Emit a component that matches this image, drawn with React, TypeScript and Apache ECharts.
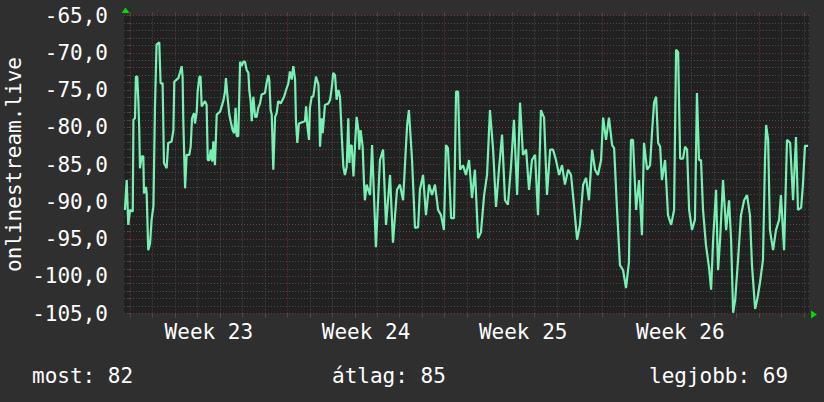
import React, { useEffect, useRef } from 'react';
import * as echarts from 'echarts';

// time in days since start of week 23, signal value
const DAYS = [
  -0.24, -0.16, -0.09, -0.01, 0.11, 0.14, 0.21, 0.25, 0.31, 0.36,
  0.40, 0.43, 0.51, 0.58, 0.61, 0.70, 0.73, 0.80, 0.88, 0.95,
  1.03, 1.10, 1.17, 1.29, 1.35, 1.44, 1.50, 1.62, 1.69, 1.84,
  1.92, 1.96, 2.14, 2.21, 2.29, 2.33, 2.36, 2.44, 2.51, 2.63,
  2.69, 2.75, 2.84, 2.88, 2.96, 3.00, 3.08, 3.13, 3.18, 3.33,
  3.40, 3.45, 3.52, 3.58, 3.65, 3.70, 3.77, 3.85, 4.00, 4.14,
  4.22, 4.26, 4.32, 4.41, 4.47, 4.56, 4.63, 4.69, 4.74, 4.81,
  4.89, 4.96, 5.04, 5.11, 5.18, 5.26, 5.30, 5.36, 5.41, 5.48,
  5.56, 5.63, 5.70, 5.78, 5.85, 6.00, 6.07, 6.15, 6.19, 6.25,
  6.30, 6.37, 6.45, 6.52, 6.59, 6.70, 6.85, 6.94, 7.04, 7.11,
  7.19, 7.26, 7.34, 7.38, 7.44, 7.51, 7.78, 7.83, 7.89, 7.96,
  8.00, 8.08, 8.15, 8.23, 8.27, 8.38, 8.42, 8.45, 8.52, 8.57,
  8.67, 8.82, 8.90, 8.97, 9.04, 9.12, 9.19, 9.27, 9.34, 9.42,
  9.49, 9.56, 9.64, 9.71, 9.76, 9.79, 9.86, 9.94, 10.01, 10.08,
  10.16, 10.20, 10.26, 10.35, 10.41, 10.45, 10.53, 10.60,
  10.68, 10.77, 10.94, 11.12, 11.26, 11.39, 11.57, 11.70, 11.88, 12.01,
  12.15, 12.33, 12.41, 12.55, 12.68, 12.82, 12.90, 13.04, 13.17, 13.31,
  13.44, 13.57, 13.71, 13.84, 13.97, 14.06, 14.15, 14.29, 14.42, 14.51,
  14.60, 14.69, 14.82, 14.95, 15.09, 15.22, 15.35, 15.49, 15.62, 15.76,
  15.89, 16.02, 16.16, 16.29, 16.42, 16.56, 16.69, 16.82, 16.96, 17.09,
  17.23, 17.36, 17.49, 17.63, 17.76, 17.89, 18.03, 18.16, 18.29, 18.43,
  18.56, 18.70, 18.83, 18.96, 19.10, 19.23, 19.36, 19.50, 19.63, 19.76,
  19.90, 20.03, 20.17, 20.30, 20.43, 20.57, 20.70, 20.83, 20.97, 21.06,
  21.19, 21.32, 21.46, 21.55, 21.68, 21.81, 21.95, 22.08, 22.21, 22.30,
  22.39, 22.53, 22.66, 22.79, 22.88, 23.02, 23.15, 23.24, 23.33, 23.42,
  23.51, 23.60, 23.68, 23.82, 23.95, 24.09, 24.22, 24.31, 24.40, 24.49,
  24.62, 24.71, 24.80, 24.89, 25.02, 25.15, 25.24, 25.33, 25.42, 25.51,
  25.64, 25.78, 25.87, 25.96, 26.09, 26.18, 26.27, 26.40, 26.54, 26.67,
  26.76, 26.85, 26.94, 27.07, 27.20, 27.34, 27.47, 27.60, 27.69, 27.83,
  27.92, 28.05, 28.18, 28.27, 28.32, 28.41, 28.49, 28.63, 28.76, 28.90,
  28.98, 29.12, 29.25, 29.39, 29.52, 29.65, 29.74, 29.88, 29.96, 30.05,
  30.19,
];

const VALUES = [
  -91.1, -87.1, -93.1, -91.1, -91.3, -79.0, -78.8, -73.2, -73.2, -76.5,
  -80.4, -85.5, -83.9, -83.9, -88.9, -88.0, -88.9, -96.5, -95.6, -92.4,
  -90.6, -77.2, -68.9, -68.6, -74.1, -74.1, -84.8, -85.5, -82.1, -81.9,
  -80.4, -73.9, -73.4, -72.7, -71.8, -73.2, -79.0, -88.2, -83.7, -83.7,
  -82.6, -78.8, -78.1, -79.5, -77.9, -75.2, -73.2, -73.2, -77.2, -76.5,
  -77.0, -84.4, -84.4, -83.0, -84.6, -81.9, -85.1, -78.3, -77.9, -76.5,
  -75.2, -73.4, -75.6, -78.3, -79.2, -80.4, -80.8, -77.4, -81.2, -81.2,
  -71.2, -71.8, -71.2, -71.2, -72.3, -72.7, -75.0, -76.5, -79.2, -75.9,
  -78.6, -78.6, -77.4, -76.8, -75.6, -75.4, -74.1, -73.0, -73.6, -77.7,
  -78.3, -85.7, -78.6, -78.1, -76.5, -76.8, -75.9, -75.0, -74.1, -72.5,
  -73.6, -71.8, -73.6, -79.2, -82.1, -79.5, -79.2, -77.2, -79.9, -81.7,
  -77.4, -75.9, -75.9, -74.1, -73.2, -74.3, -77.7, -82.6, -78.8, -80.8,
  -77.0, -76.8, -76.3, -74.8, -72.7, -73.0, -76.3, -75.0, -75.9, -81.2,
  -85.3, -86.4, -85.3, -78.8, -84.8, -82.6, -82.4, -86.6, -82.4, -78.6,
  -80.4, -83.0, -80.4, -82.6, -87.5, -89.8, -87.7, -88.4,
  -89.1, -82.4, -96.1, -84.4, -83.0, -93.1, -86.4, -95.5, -88.4, -87.7,
  -89.8, -79.7, -77.7, -84.4, -93.5, -93.4, -88.4, -86.4, -91.8, -87.7,
  -89.1, -87.7, -91.1, -91.8, -93.8, -82.4, -82.8, -92.2, -92.2, -75.2,
  -75.2, -85.7, -85.1, -86.4, -84.4, -89.5, -85.7, -94.9, -94.1, -89.1,
  -86.4, -77.7, -83.0, -90.7, -85.7, -81.0, -89.8, -90.4, -85.1, -79.0,
  -89.1, -76.7, -83.7, -83.0, -88.4, -84.4, -83.7, -91.8, -77.7, -78.7,
  -89.1, -83.0, -83.0, -84.4, -86.4, -85.1, -87.7, -85.7, -86.4, -90.4,
  -95.1, -93.1, -87.7, -86.8, -89.8, -83.0, -85.7, -86.4, -84.4, -78.7,
  -81.7, -78.7, -82.4, -82.8, -91.1, -98.5, -99.2, -101.6, -98.1, -81.7,
  -81.7, -91.1, -87.1, -94.5, -82.1, -85.7, -85.1, -80.6, -76.7, -75.9,
  -82.1, -82.6, -87.1, -84.4, -91.8, -93.1, -91.1, -69.6, -69.9, -84.2,
  -84.2, -82.6, -83.0, -91.1, -93.8, -92.4, -75.4, -84.4, -84.4, -91.1,
  -95.8, -98.9, -101.8, -95.1, -88.4, -99.2, -95.1, -87.1, -93.8, -89.8,
  -95.1, -104.9, -103.2, -97.8, -91.8, -89.8, -89.1, -91.8, -98.5, -104.4,
  -103.2, -100.8, -97.8, -84.4, -79.7, -81.7, -93.8, -96.5, -93.8, -92.4,
  -89.1, -96.5, -81.7, -82.1, -89.8, -81.3, -91.1, -90.8, -87.7, -82.5,
  -82.5,
];

const X_MIN = -0.28;
const X_MAX = 30.23;
const Y_MIN = -105;
const Y_MAX = -65;
const Y_STEP = 5;

const DAY_TICKS = [
  0, 1, 2, 3, 4, 5, 6, 7, 8, 9, 10, 11, 12, 13, 14, 15,
  16, 17, 18, 19, 20, 21, 22, 23, 24, 25, 26, 27, 28, 29, 30,
];
const WEEK_LABEL_POS = [3.5, 10.5, 17.5, 24.5];
const WEEK_LABELS = ['Week 23', 'Week 24', 'Week 25', 'Week 26'];

const Y_NAME = 'onlinestream.live';
const SUMMARY_LABELS = ['most: ', 'átlag: ', 'legjobb: '];
const SUMMARY_VALUES = [82, 85, 69];

const FONT = '"DejaVu Sans Mono", monospace';
const LINE_COLOR = '#78f0b4';
const MAJOR = '#7a3434';
const MINOR = '#4c4c4c';
const ARROW = '#00dd00';

export default function App() {
  const ref = useRef<HTMLDivElement>(null);

  useEffect(() => {
    if (!ref.current) return;
    const chart = echarts.init(ref.current, undefined, { renderer: 'svg' });
    const data = DAYS.map((d, i) => [d, VALUES[i]]);

    const option: any = {
      animation: false,
      backgroundColor: '#2f2f2f',
      grid: {
        left: 124,
        right: 15,
        top: 15.5,
        bottom: 88.5,
        show: true,
        backgroundColor: '#212121',
        borderWidth: 0,
        containLabel: false,
        outerBoundsMode: 'none',
      },
      xAxis: [
        {
          type: 'value',
          min: X_MIN,
          max: X_MAX,
          position: 'bottom',
          axisLine: { show: false },
          axisTick: {
            show: true,
            customValues: DAY_TICKS,
            length: 4,
            lineStyle: { color: MINOR },
          },
          axisLabel: {
            show: true,
            customValues: WEEK_LABEL_POS,
            formatter: (v: number) => {
              const i = WEEK_LABEL_POS.findIndex((p) => Math.abs(p - v) < 1e-6);
              return i >= 0 ? WEEK_LABELS[i] : '';
            },
            color: '#ffffff',
            fontFamily: FONT,
            fontSize: 21,
            margin: 8,
          },
          splitLine: {
            show: true,
            lineStyle: {
              color: [MAJOR, MINOR, MINOR, MINOR, MINOR, MINOR, MINOR],
              type: [1, 2],
              width: 1,
            },
          },
        },
        {
          type: 'value',
          min: X_MIN,
          max: X_MAX,
          position: 'top',
          axisLine: { show: false },
          axisTick: {
            show: true,
            customValues: DAY_TICKS,
            length: 3,
            lineStyle: { color: MINOR },
          },
          axisLabel: { show: false },
          splitLine: { show: false },
        },
      ],
      yAxis: {
        type: 'value',
        min: Y_MIN,
        max: Y_MAX,
        interval: Y_STEP,
        axisLine: { show: false },
        axisTick: { show: true, length: 2, lineStyle: { color: MAJOR } },
        minorTick: { show: true, splitNumber: 5, length: 2, lineStyle: { color: MINOR } },
        axisLabel: {
          formatter: (v: number) => v.toFixed(1).replace('.', ','),
          color: '#ffffff',
          fontFamily: FONT,
          fontSize: 21,
          margin: 16,
        },
        splitLine: { show: true, lineStyle: { color: MAJOR, type: [1, 2], width: 1 } },
        minorSplitLine: { show: true, lineStyle: { color: MINOR, type: [1, 2], width: 1 } },
        name: Y_NAME,
        nameLocation: 'middle',
        nameRotate: 90,
        nameGap: 100,
        nameMoveOverlap: false,
        nameTextStyle: { color: '#ffffff', fontFamily: FONT, fontSize: 21 },
      },
      series: [
        {
          type: 'line',
          xAxisIndex: 0,
          data,
          showSymbol: false,
          symbol: 'none',
          lineStyle: { color: LINE_COLOR, width: 2.2 },
          z: 5,
          silent: true,
        },
      ],
      graphic: [
        {
          type: 'polygon',
          shape: { points: [[125.5, 7.5], [121.5, 13], [129.5, 13]] },
          style: { fill: ARROW },
        },
        {
          type: 'polygon',
          shape: { points: [[817, 314.5], [811, 310.5], [811, 318.5]] },
          style: { fill: ARROW },
        },
        {
          type: 'text',
          x: 32,
          y: 376,
          style: {
            text: SUMMARY_LABELS[0] + SUMMARY_VALUES[0],
            fill: '#ffffff',
            fontFamily: FONT,
            fontSize: 21,
            verticalAlign: 'middle',
          },
        },
        {
          type: 'text',
          x: 332,
          y: 376,
          style: {
            text: SUMMARY_LABELS[1] + SUMMARY_VALUES[1],
            fill: '#ffffff',
            fontFamily: FONT,
            fontSize: 21,
            verticalAlign: 'middle',
          },
        },
        {
          type: 'text',
          x: 649,
          y: 376,
          style: {
            text: SUMMARY_LABELS[2] + SUMMARY_VALUES[2],
            fill: '#ffffff',
            fontFamily: FONT,
            fontSize: 21,
            verticalAlign: 'middle',
          },
        },
      ],
    };

    chart.setOption(option);
    return () => chart.dispose();
  }, []);

  return (
    <div
      ref={ref}
      style={{ position: 'fixed', left: 0, top: 0, width: 824, height: 402, background: '#2f2f2f' }}
    />
  );
}
